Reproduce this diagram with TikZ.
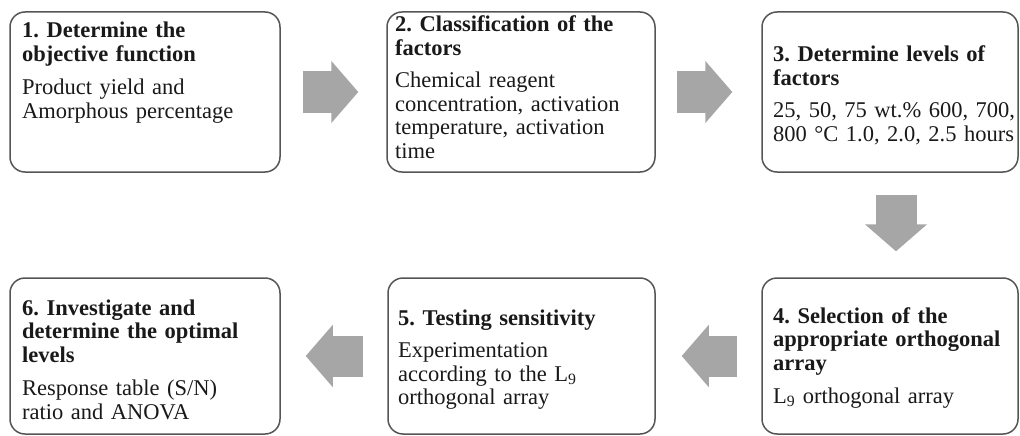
\documentclass[tikz,border=0pt]{standalone}
\usepackage{fontspec}
\setmainfont{Liberation Serif}
\usetikzlibrary{arrows.meta}
\definecolor{boxline}{RGB}{85,85,85}
\definecolor{arrfill}{RGB}{166,166,166}
\definecolor{txtcol}{RGB}{25,25,25}
\frenchspacing
\begin{document}
\begin{tikzpicture}[x=1pt,y=-1pt,
	box/.style={draw=boxline,line width=1.5pt,rounded corners=15pt,minimum height=160pt,inner sep=0pt},
	txt/.style={anchor=base west,text width=258pt,align=left,inner sep=0pt,text=txtcol,font=\fontsize{22.5}{23.5}\selectfont},
	blk/.style={draw=arrfill,line width=41pt,-{Triangle[length=27pt,width=62pt,line width=1.5pt,fill=arrfill]}}]
		\useasboundingbox (0,0) rectangle (1020,436);

		\node[box,minimum width=270pt] (s1)at(145,92){};
		\node[box,minimum width=268pt] (s2)at(521,92){};
		\node[box,minimum width=256pt] (s3)at(890,92){};
		\node[box,minimum width=256pt,minimum height=156pt] (s4)at(890,356){};
		\node[box,minimum width=267pt,minimum height=156pt] (s5)at(521.5,356){};
		\node[box,minimum width=270pt,minimum height=156pt] (s6)at(145,356){};

		\node[txt] (t1)at(22,38){\textbf{1. Determine the}\\\textbf{objective function}\\[10pt]Product yield and\\Amorphous percentage};
		\node[txt] (t2)at(395,32){\textbf{2. Classification of the}\\\textbf{factors}\\[9pt]Chemical reagent\\concentration, activation\\temperature, activation\\time};
		\node[txt] (t3)at(773,62){\textbf{3. Determine levels of}\\\textbf{factors}\\[9pt]25, 50, 75 wt.\% 600, 700,\\800 °C 1.0, 2.0, 2.5 hours};
		\node[txt] (t4)at(773,323){\textbf{4. Selection of the}\\\textbf{appropriate orthogonal}\\\textbf{array}\\[10pt]L\textsubscript{9} orthogonal array};
		\node[txt] (t5)at(398,325){\textbf{5. Testing sensitivity}\\[9pt]Experimentation\\according to the L\textsubscript{9}\\orthogonal array};
		\node[txt] (t6)at(22,315){\textbf{6. Investigate and}\\\textbf{determine the optimal}\\\textbf{levels}\\[10pt]Response table (S/N)\\ratio and ANOVA};

		\draw[blk,shorten <=22pt,shorten >=28pt] (s1.east) -- (s2.west);
		\draw[blk,shorten <=21pt,shorten >=29pt] (s2.east) -- (s3.west);
		\draw[blk,shorten <=22pt,shorten >=26pt,transform canvas={xshift=6pt}] (s3.south) -- (s4.north);
		\draw[blk,shorten <=24pt,shorten >=26pt] (s4.west) -- (s5.east);
		\draw[blk,shorten <=24pt,shorten >=25pt] (s5.west) -- (s6.east);
	\end{tikzpicture}
\end{document}
